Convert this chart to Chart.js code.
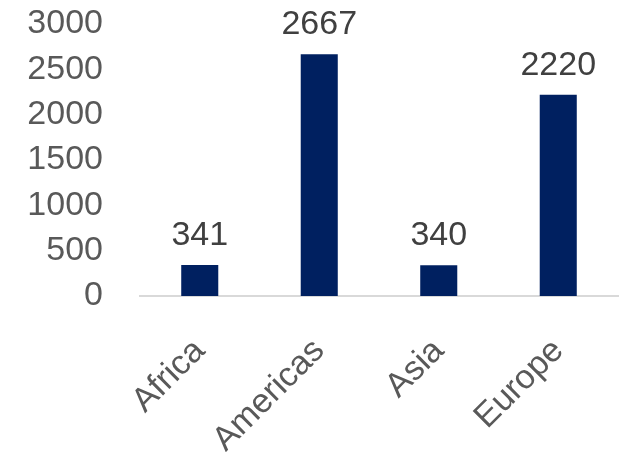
<!DOCTYPE html>
<html>
<head>
<meta charset="utf-8">
<script src="https://cdn.jsdelivr.net/npm/chart.js@4"></script>
<style>
html,body{margin:0;padding:0;background:#fff;}
#wrap{width:630px;height:452px;}
</style>
</head>
<body>
<div id="wrap"><canvas id="c" width="630" height="452"></canvas></div>
<script>
const categories = ["Africa", "Americas", "Asia", "Europe"];
const values = [341, 2667, 340, 2220];
const yTicks = [0, 500, 1000, 1500, 2000, 2500, 3000];

const FONT = "'Liberation Sans', Arial, sans-serif";

const valueLabels = {
  id: 'valueLabels',
  afterDatasetsDraw(chart) {
    const ctx = chart.ctx;
    const meta = chart.getDatasetMeta(0);
    ctx.save();
    ctx.font = "34px " + FONT;
    ctx.fillStyle = "#404040";
    ctx.textAlign = "center";
    ctx.textBaseline = "alphabetic";
    meta.data.forEach((bar, i) => {
      ctx.fillText(String(values[i]), bar.x, bar.y - 20);
    });
    ctx.restore();
  }
};

new Chart(document.getElementById('c'), {
  type: 'bar',
  data: {
    labels: categories,
    datasets: [{
      data: values,
      backgroundColor: '#002060',
      borderWidth: 0,
      barPercentage: 0.31,
      categoryPercentage: 1.0
    }]
  },
  options: {
    responsive: false,
    animation: false,
    devicePixelRatio: 1,
    layout: { padding: { top: 0, right: 12, left: 0, bottom: 0 } },
    plugins: { legend: { display: false }, tooltip: { enabled: false } },
    scales: {
      x: {
        grid: { display: false, drawTicks: false },
        border: { display: true, color: '#d9d9d9', width: 2 },
        ticks: {
          font: { family: FONT, size: 34 },
          color: '#595959',
          minRotation: 45,
          maxRotation: 45,
          autoSkip: false,
          padding: 35
        },
        afterFit(scale) { scale.height = 156; scale.paddingLeft = 0; scale.paddingRight = 0; }
      },
      y: {
        min: 0,
        max: 3000,
        grid: { display: false, drawTicks: false },
        border: { display: false },
        afterBuildTicks(scale) { scale.ticks = yTicks.map(v => ({ value: v })); },
        ticks: {
          font: { family: FONT, size: 34 },
          color: '#595959',
          padding: 37,
          autoSkip: false,
          callback: (v) => String(v)
        },
        afterFit(scale) { scale.width = 140; scale.paddingTop = 24; scale.paddingBottom = 0; }
      }
    }
  },
  plugins: [valueLabels]
});
</script>
</body>
</html>
